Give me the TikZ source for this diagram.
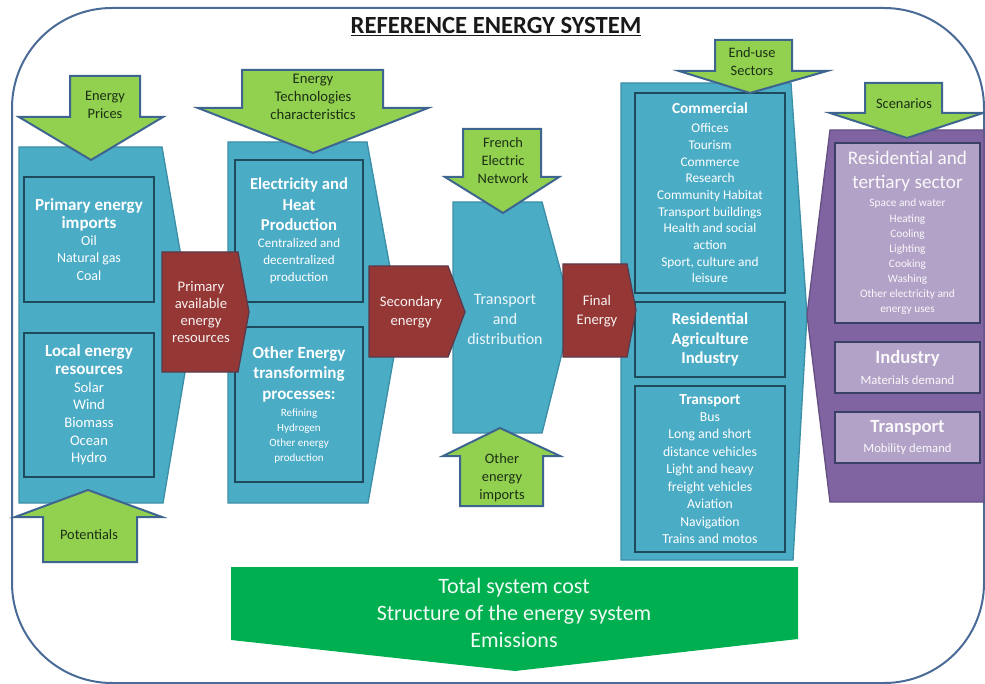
\documentclass[tikz,border=0pt]{standalone}
\usepackage{fontspec}
\setmainfont{Carlito}
\usetikzlibrary{positioning}

\definecolor{panelblue}{HTML}{4BACC6}
\definecolor{panelline}{HTML}{3C8FA7}
\definecolor{boxline}{HTML}{1D4B5C}
\definecolor{flowred}{HTML}{953735}
\definecolor{flowline}{HTML}{5A3B4C}
\definecolor{ingreen}{HTML}{92D050}
\definecolor{arrline}{HTML}{3E6490}
\definecolor{outgreen}{HTML}{00B050}
\definecolor{ppanel}{HTML}{8064A2}
\definecolor{plilac}{HTML}{B3A2C7}
\definecolor{pboxline}{HTML}{3A3F66}
\definecolor{frameline}{HTML}{4A6B96}
\definecolor{arrtext}{HTML}{1B3014}

% one heading line inside a box
\newcommand{\headln}[2][12.75]{{\bfseries\fontsize{#1}{#1}\selectfont #2}}

\tikzset{
  frame/.style={draw=frameline, line width=1.5pt, rounded corners=75pt},
  panel/.style={fill=panelblue, draw=panelline, line width=1pt},
  ppanelsty/.style={fill=ppanel, draw=ppanel!80!black, line width=1pt},
  inbox/.style={draw=boxline, line width=1.5pt, fill=panelblue, text=white, align=center, inner sep=0pt},
  pbox/.style={draw=pboxline, line width=1.5pt, fill=plilac, text=white!92!plilac, align=center, inner sep=0pt},
  flow/.style={fill=flowred, draw=flowline, line width=1pt},
  flowlbl/.style={text=white!93!flowred, align=center, font=\fontsize{11}{12.75}\selectfont},
  gin/.style={fill=ingreen, draw=arrline, line width=1.5pt},
  arrlbl/.style={text=arrtext, align=center, font=\fontsize{10.8}{13.5}\selectfont},
  gout/.style={fill=outgreen},
  outlbl/.style={text=white!94!outgreen, align=center, font=\fontsize{16.5}{20}\selectfont}
}

\begin{document}
\begin{tikzpicture}[x=0.75pt, y=-0.75pt]
  \useasboundingbox (0,0) rectangle (985,684);
  \draw[frame] (12,8) rectangle (984,683);
  \node[font=\bfseries\fontsize{18.5}{22}\selectfont, text=black!90] (title) at (496,27) {\underline{REFERENCE ENERGY SYSTEM}};

  % blue and purple panels
  \draw[panel] (19,147) -- (162,147) -- (193,325) -- (163,503) -- (19,503) -- cycle;
  \draw[panel] (228,142) -- (367,142) -- (400,322) -- (368,503) -- (228,503) -- cycle;
  \draw[panel] (453,202) -- (542,202) -- (572,313) -- (542,433) -- (453,433) -- cycle;
  \draw[panel] (621,83) -- (791,83) -- (807,315) -- (793,560) -- (621,560) -- cycle;
  \draw[ppanelsty] (830,130) -- (984,130) -- (984,502) -- (830,502) -- (807,315) -- cycle;

  % boxes of the first two columns
  \node[inbox, minimum width=97.5pt, minimum height=93.75pt, font=\fontsize{10.5}{13}\selectfont] (pimp) at (89,239.5)
    {\headln{Primary energy}\\\headln{imports}\\Oil\\Natural gas\\Coal};
  \node[inbox, minimum width=97.5pt, minimum height=108pt, font=\fontsize{11}{13.3}\selectfont] (locres) at (89,405)
    {\headln{Local energy}\\\headln{resources}\\Solar\\Wind\\Biomass\\Ocean\\Hydro};
  \node[inbox, minimum width=96pt, minimum height=106.5pt, font=\fontsize{9.8}{12.75}\selectfont] (elec) at (299,231)
    {\headln[12.5]{Electricity and}\\[2.6pt]\headln[12.5]{Heat}\\[2.6pt]\headln[12.5]{Production}\\Centralized and\\decentralized\\production};
  \node[inbox, minimum width=96pt, minimum height=116.25pt, font=\fontsize{8.3}{11.25}\selectfont] (othtr) at (299,404.5)
    {\headln{Other Energy}\\[4.1pt]\headln{transforming}\\[4.1pt]\headln{processes:}\\[1.5pt]Refining\\Hydrogen\\Other energy\\production};

  % end-use boxes
  \node[inbox, minimum width=112.5pt, minimum height=150pt, font=\fontsize{10}{12.5}\selectfont] (comm) at (710,193)
    {\headln[11.5]{Commercial}\\[1.7pt]Offices\\Tourism\\Commerce\\Research\\Community Habitat\\Transport buildings\\Health and social\\action\\Sport, culture and\\leisure};
  \node[inbox, minimum width=112.5pt, minimum height=56.25pt, font=\fontsize{12.5}{14.6}\selectfont] (resag) at (710,339.5)
    {\headln[12.5]{Residential}\\\headln[12.5]{Agriculture}\\\headln[12.5]{Industry}};
  \node[inbox, minimum width=112.5pt, minimum height=124.5pt, font=\fontsize{10.3}{13.1}\selectfont] (trsp) at (710,469)
    {\headln[11.5]{Transport}\\Bus\\Long and short\\distance vehicles\\Light and heavy\\freight vehicles\\Aviation\\Navigation\\Trains and motos};

  % scenario boxes
  \node[pbox, minimum width=108.75pt, minimum height=135pt, font=\fontsize{8.5}{11.3}\selectfont] (rests) at (907.5,233)
    {{\fontsize{14.4}{14.4}\selectfont Residential and}\\[6.7pt]{\fontsize{14.4}{14.4}\selectfont tertiary sector}\\[2.2pt]Space and water\\Heating\\Cooling\\Lighting\\Cooking\\Washing\\Other electricity and\\energy uses};
  \node[pbox, minimum width=108.75pt, minimum height=38.25pt, font=\fontsize{9.5}{15.75}\selectfont] (indu) at (907.5,367.5)
    {\headln[14]{Industry}\\Materials demand};
  \node[pbox, minimum width=108.75pt, minimum height=38.25pt, font=\fontsize{9.5}{15}\selectfont] (trdem) at (907.5,437.5)
    {\headln[14]{Transport}\\Mobility demand};

  % red flows
  \draw[flow] (162,252) -- (238,252) -- (249,312) -- (238,372) -- (162,372) -- cycle;
  \node[flowlbl] (primav) at (201,312) {Primary\\available\\energy\\resources};
  \draw[flow] (369,266) -- (448,266) -- (465,312) -- (448,357) -- (369,357) -- cycle;
  \node[flowlbl, font=\fontsize{11}{14.25}\selectfont] (second) at (411,312) {Secondary\\energy};
  \draw[flow] (563,264) -- (627,264) -- (636,310) -- (627,357) -- (563,357) -- cycle;
  \node[flowlbl, font=\fontsize{11}{14.25}\selectfont] (final) at (597,311) {Final\\Energy};
  \node[flowlbl, text=white!90!panelblue, font=\fontsize{12}{15}\selectfont] (trdist) at (505,319) {Transport\\and\\distribution};

  % green input arrows
  \draw[gin] (70,76) -- (140,76) -- (140,117) -- (163,117) -- (91,160) -- (19,117) -- (70,117) -- cycle;
  \node[arrlbl] (prices) at (105,105) {Energy\\Prices};
  \draw[gin] (242,70) -- (383,70) -- (383,108) -- (428,108) -- (313,153) -- (198,108) -- (242,108) -- cycle;
  \node[arrlbl, font=\fontsize{11}{13.5}\selectfont] (techch) at (313,97) {Energy\\Technologies\\characteristics};
  \draw[gin] (463,129) -- (541,129) -- (541,177) -- (559,177) -- (503,213) -- (445,177) -- (463,177) -- cycle;
  \node[arrlbl] (french) at (503,161) {French\\Electric\\Network};
  \draw[gin] (460,506) -- (543,506) -- (543,456) -- (560,456) -- (500,428) -- (443,456) -- (460,456) -- cycle;
  \node[arrlbl] (othimp) at (502,478) {Other\\energy\\imports};
  \draw[gin] (715,40) -- (792,40) -- (792,71) -- (827,71) -- (750,93) -- (679,71) -- (715,71) -- cycle;
  \node[arrlbl] (enduse) at (752,62) {End-use\\Sectors};
  \draw[gin] (865,83) -- (942,83) -- (942,113) -- (983,113) -- (907,138) -- (830,113) -- (865,113) -- cycle;
  \node[arrlbl] (scen) at (904,104) {Scenarios};
  \draw[gin] (43,562) -- (137,562) -- (137,517) -- (162,517) -- (88,490) -- (15,517) -- (43,517) -- cycle;
  \node[arrlbl] (potent) at (89,535) {Potentials};

  % output arrow
  \fill[gout] (231,567) -- (798,567) -- (798,639) -- (515,671) -- (231,640) -- cycle;
  \node[outlbl] (result) at (514,613) {Total system cost\\Structure of the energy system\\Emissions};
\end{tikzpicture}
\end{document}
